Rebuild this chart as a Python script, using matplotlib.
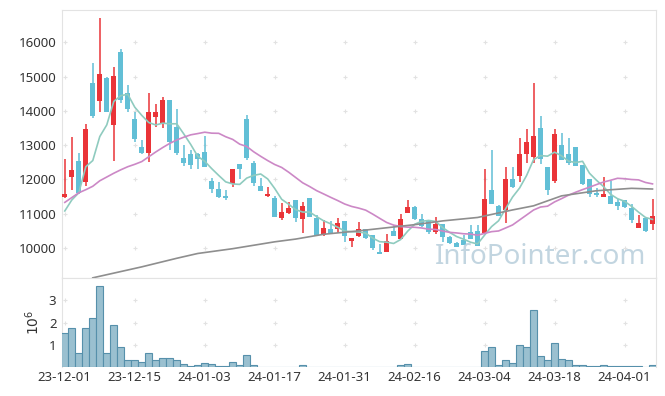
import numpy as np
import pandas as pd
import matplotlib
matplotlib.use("Agg")
import matplotlib.pyplot as plt

plt.rcParams["font.family"] = ["Noto Sans", "DejaVu Sans"]

# daily OHLC, trading-day index 0..84 (23-12-01 .. 24-04-05)
opens = [11500, 12080, 12540, 11930, 14810, 14290, 14960, 13590, 15710, 14510,
         13760, 12950, 12780, 13830, 13620, 14310, 13530, 12620, 12740, 12740,
         12800, 11960, 11720, 11520, 11870, 12450, 13760, 12480, 11810, 11520,
         11460, 10870, 11010, 11400, 10840, 11450, 10880, 10380, 10540, 10540,
         10790, 10210, 10350, 10540, 10380, 9870, 9890, 10500, 10260, 11030,
         11200, 10840, 10790, 10480, 10700, 10330, 10160, 10230, 10480, 10500,
         10430, 11690, 11230, 11110, 12010, 12100, 12730, 12660, 13500, 12360,
         11960, 13000, 12740, 12940, 12420, 12010, 11610, 11500, 11520, 11330,
         11400, 11170, 10570, 10880, 10700]
highs = [12590, 13230, 12780, 13610, 15380, 16700, 14980, 15270, 15790, 14750,
         13970, 13150, 14510, 14190, 14390, 14310, 14040, 13000, 12860, 12760,
         13270, 12030, 11910, 11690, 12300, 12450, 13880, 12550, 12030, 11770,
         11520, 11300, 11350, 11410, 11330, 11450, 10950, 10820, 10800, 10870,
         10790, 10280, 10750, 10560, 10380, 10120, 10400, 10670, 10990, 11400,
         11210, 10990, 10790, 10910, 10710, 10340, 10170, 10380, 10670, 10670,
         12290, 12860, 11240, 12370, 12370, 13200, 13460, 14800, 13850, 12370,
         13460, 13340, 13200, 12940, 12420, 12020, 11740, 12080, 11960, 11420,
         11410, 11280, 10960, 10890, 11420]
lows = [11450, 11690, 11570, 11810, 13790, 13970, 13960, 12540, 14240, 13970,
        13090, 12740, 12520, 13540, 13510, 12860, 12720, 12390, 12310, 12290,
        12350, 11590, 11450, 11390, 11770, 12000, 12560, 11820, 11660, 11490,
        10890, 10810, 10980, 10770, 10430, 10910, 10350, 10350, 10440, 10450,
        10180, 10020, 10310, 10250, 9940, 9820, 9890, 10340, 10250, 11020,
        10820, 10620, 10400, 10410, 10180, 10130, 10020, 10080, 10250, 10050,
        10420, 11270, 10930, 10740, 11760, 11910, 12470, 12470, 12440, 11540,
        11890, 12560, 12420, 12380, 11840, 11500, 11500, 11490, 11270, 11110,
        11180, 10720, 10570, 10480, 10530]
closes = [11570, 12270, 11590, 13470, 13850, 15070, 13970, 15010, 14310, 14050,
          13190, 12780, 13960, 13960, 14310, 13100, 12780, 12490, 12410, 12590,
          12370, 11710, 11500, 11470, 12290, 12300, 12630, 11900, 11670, 11570,
          10910, 11050, 11180, 10880, 11220, 10910, 10380, 10570, 10450, 10720,
          10350, 10280, 10540, 10280, 9990, 9830, 10210, 10350, 10850, 11200,
          10840, 10650, 10480, 10700, 10310, 10140, 10040, 10090, 10260, 10060,
          11430, 11280, 10940, 12010, 11770, 12740, 13100, 13270, 12590, 11690,
          13320, 12570, 12490, 12390, 11870, 11570, 11550, 11570, 11280, 11220,
          11190, 10820, 10720, 10500, 10940]
# volume in millions of shares
volumes = [1.51, 1.74, 0.61, 1.74, 2.19, 3.64, 0.61, 1.87, 0.88, 0.31,
           0.31, 0.21, 0.61, 0.31, 0.39, 0.39, 0.31, 0.12, 0.03, 0.075,
           0.165, 0.12, 0.03, 0.03, 0.21, 0.075, 0.52, 0.075, 0.02, 0.02,
           0.02, 0.02, 0.02, 0.02, 0.07, 0.02, 0.02, 0.02, 0.02, 0.02,
           0.02, 0.02, 0.02, 0.02, 0.02, 0.02, 0.02, 0.02, 0.075, 0.12,
           0.02, 0.02, 0.02, 0.02, 0.02, 0.0, 0.0, 0.02, 0.02, 0.02,
           0.72, 0.88, 0.075, 0.31, 0.165, 0.97, 0.88, 2.55, 0.48, 0.31,
           1.06, 0.34, 0.31, 0.075, 0.075, 0.03, 0.03, 0.075, 0.03, 0.03,
           0.03, 0.03, 0.03, 0.0, 0.075]

# moving-average values before enough in-window history exists
ma5_head = [11080, 11400, 11610, 12370]
ma20_head = [11330, 11470, 11610, 11700, 11800, 11960, 12070, 12180, 12280, 12370,
             12440, 12520, 12660, 12800, 12930, 13050, 13150, 13230, 13300]
ma60_idx = [4, 11, 16, 19, 24, 30, 33, 37, 42, 46, 50, 54, 59, 64, 67, 71, 76, 81, 84]
ma60_val = [9130, 9450, 9700, 9840, 9980, 10180, 10260, 10400, 10500, 10590,
            10680, 10790, 10890, 11110, 11230, 11520, 11670, 11740, 11720]

tick_idx = [0, 10, 20, 30, 40, 50, 60, 70, 80]
tick_labels = ["23-12-01", "23-12-15", "24-01-03", "24-01-17", "24-01-31",
               "24-02-16", "24-03-04", "24-03-18", "24-04-01"]

UP = "#ea3438"
DOWN = "#62bfd6"

df = pd.DataFrame({"open": opens, "high": highs, "low": lows, "close": closes,
                   "vol": volumes})
x = np.arange(len(df))
ma5 = df["close"].rolling(5).mean().to_numpy()
ma5[:4] = ma5_head
ma20 = df["close"].rolling(20).mean().to_numpy()
ma20[:19] = ma20_head

fig = plt.figure(figsize=(6.65, 3.96), dpi=100)
ax = fig.add_axes([62 / 665, 1 - 278 / 396, 594 / 665, 268 / 396])
axv = fig.add_axes([62 / 665, 1 - 367 / 396, 594 / 665, 89 / 396], sharex=ax)

up = df["close"] >= df["open"]
colors = np.where(up, UP, DOWN)
ax.vlines(x, df["low"], df["high"], colors=colors, linewidth=1.1, zorder=3)
body_lo = np.minimum(df["open"], df["close"])
body_h = np.maximum((df["close"] - df["open"]).abs(), 25)
ax.bar(x, body_h, bottom=body_lo, width=0.72, color=colors, zorder=4)

ax.plot(x, ma5, color="#8fcbbf", linewidth=1.2, zorder=5)
ax.plot(x, ma20, color="#cc88c6", linewidth=1.2, zorder=5)
ax.plot(ma60_idx, ma60_val, color="#8e8e8e", linewidth=1.2, zorder=5)

ax.set_ylim(9125, 16940)
ax.set_xlim(-0.4, 84.5)
ax.set_yticks(range(10000, 16001, 1000))

axv.bar(x, df["vol"], width=1.0, color="#9ac0d0", edgecolor="#5690ab",
        linewidth=0.8, zorder=3)
axv.set_ylim(0, 4.0)
axv.set_yticks([1, 2, 3])
axv.set_ylabel(r"$10^6$", fontsize=10, color="#333333", labelpad=4)

axv.set_xticks(tick_idx)
axv.set_xticklabels(tick_labels)
plt.setp(ax.get_xticklabels(), visible=False)

for a, yt in ((ax, range(10000, 16001, 1000)), (axv, [1, 2, 3])):
    gx, gy = np.meshgrid(tick_idx, list(yt))
    a.plot(gx.ravel(), gy.ravel(), "+", color="#e2e2e2", markersize=3.5,
           markeredgewidth=0.8, zorder=1)
    a.tick_params(length=0, labelsize=9.5, colors="#333333", pad=4)
    for s in a.spines.values():
        s.set_color("#e3e3e3")
    a.set_facecolor("white")
axv.spines["bottom"].set_visible(False)
axv.tick_params(axis="x", pad=3)

ax.text(0.805, 0.08, "InfoPointer.com", transform=ax.transAxes, ha="center",
        va="center", fontsize=20, color="#b3cbd9", alpha=0.8, zorder=6)

fig.savefig("out.png", dpi=100)
